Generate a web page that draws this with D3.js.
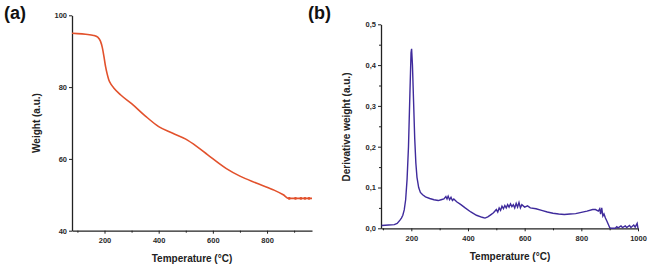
<!DOCTYPE html>
<html>
<head>
<meta charset="utf-8">
<script src="https://cdn.jsdelivr.net/npm/d3@7"></script>
<style>
  body { margin: 0; background: #fff; }
  svg { display: block; font-family: "Liberation Sans", Arial, sans-serif; }
  .tick text { font-size: 7.5px; font-weight: bold; fill: #2a2a2a; }
  .domain, .tick line { stroke: #222; }
</style>
</head>
<body>
<svg id="chart" width="652" height="265"></svg>
<script>
// TGA curve, panel (a)
var tgaTemp = [80, 100, 130, 160, 175, 185, 192, 198, 204, 210, 216, 225, 235, 260, 300, 350, 400, 450, 500, 540, 580, 650, 700, 760, 820, 860, 880, 900, 930, 966]
var tgaWeight = [95.0, 94.9, 94.7, 94.4, 93.9, 92.8, 91.0, 88.5, 85.7, 83.6, 82.0, 80.7, 79.7, 77.8, 75.4, 72.0, 69.0, 67.2, 65.5, 63.5, 61.2, 57.3, 55.2, 53.3, 51.5, 50.0, 49.0, 49.0, 49.0, 49.0]
var tgaMarkTemp = [882, 905, 925, 940, 955]

// DTG curve, panel (b)
var dtgTemp = [95, 120, 140, 150, 160, 165, 170, 175, 180, 185, 190, 195, 199, 201, 204, 208, 212, 216, 220, 226, 232, 240, 250, 265, 280, 295, 305, 315, 322, 326, 330, 335, 340, 345, 350, 360, 375, 390, 410, 430, 450, 460, 470, 480, 490, 500, 505, 510, 515, 520, 525, 530, 535, 540, 545, 550, 555, 560, 565, 570, 575, 580, 585, 590, 600, 610, 620, 640, 660, 680, 700, 720, 740, 760, 780, 800, 820, 840, 850, 860, 865, 868, 872, 876, 880, 885, 890, 895, 900, 905, 920, 925, 930, 940, 945, 955, 960, 970, 975, 985, 990, 997, 1000]
var dtgValue = [0.007, 0.008, 0.009, 0.012, 0.02, 0.025, 0.032, 0.045, 0.07, 0.12, 0.2, 0.33, 0.43, 0.44, 0.40, 0.31, 0.22, 0.16, 0.125, 0.10, 0.088, 0.082, 0.077, 0.073, 0.07, 0.068, 0.07, 0.072, 0.078, 0.072, 0.079, 0.07, 0.076, 0.068, 0.072, 0.065, 0.058, 0.05, 0.04, 0.032, 0.027, 0.025, 0.028, 0.033, 0.038, 0.046, 0.04, 0.05, 0.044, 0.054, 0.048, 0.056, 0.05, 0.058, 0.052, 0.06, 0.053, 0.058, 0.05, 0.061, 0.052, 0.063, 0.05, 0.058, 0.052, 0.055, 0.05, 0.048, 0.044, 0.04, 0.037, 0.035, 0.034, 0.035, 0.036, 0.039, 0.042, 0.046, 0.046, 0.042, 0.048, 0.035, 0.05, 0.03, 0.035, 0.025, 0.018, 0.01, 0.002, 0.0, 0.0, 0.004, 0.001, 0.006, 0.002, 0.006, 0.002, 0.007, 0.002, 0.008, 0.003, 0.012, 0.0]

var aXTicks = [200, 400, 600, 800]
var aXMinor = [100, 300, 500, 700, 900]
var aYTicks = [40, 60, 80, 100]
var bXTicks = [200, 400, 600, 800, 1000]
var bXMinor = [100, 300, 500, 700, 900]
var bYTicks = [0, 0.1, 0.2, 0.3, 0.4, 0.5]
var bYMinor = [0.05, 0.15, 0.25, 0.35, 0.45]

var svg = d3.select("#chart")

// panel (a) scales
var xa = d3.scaleLinear().domain([80, 966]).range([72, 312])
var ya = d3.scaleLinear().domain([40, 100]).range([230.7, 15.3])

// panel (b) scales
var xb = d3.scaleLinear().domain([93, 1000]).range([381, 638])
var yb = d3.scaleLinear().domain([0, 0.5]).range([228.3, 24.3])

function drawAxes(x, y, xTicks, xMinor, yTicks, yMinor, yFmt) {
  var g = svg.append("g")
  var bottom = y.range()[0]
  var left = x.range()[0]

  g.append("g")
    .attr("transform", "translate(0," + bottom + ")")
    .call(d3.axisBottom(x).tickValues(xTicks).tickSize(3).tickSizeOuter(0).tickPadding(4).tickFormat(d3.format("d")))
  g.append("g")
    .attr("transform", "translate(0," + bottom + ")")
    .call(d3.axisBottom(x).tickValues(xMinor).tickSize(2).tickFormat("").tickSizeOuter(0))
    .select(".domain").remove()

  g.append("g")
    .attr("transform", "translate(" + left + ",0)")
    .call(d3.axisLeft(y).tickValues(yTicks).tickSize(3).tickSizeOuter(0).tickPadding(2).tickFormat(yFmt))
  if (yMinor.length) {
    g.append("g")
      .attr("transform", "translate(" + left + ",0)")
      .call(d3.axisLeft(y).tickValues(yMinor).tickSize(2).tickFormat("").tickSizeOuter(0))
      .select(".domain").remove()
  }
  g.selectAll(".domain").attr("stroke-width", 1.3)
  g.selectAll(".tick line").attr("stroke-width", 1)
}

drawAxes(xa, ya, aXTicks, aXMinor, aYTicks, [], d3.format("d"))
drawAxes(xb, yb, bXTicks, bXMinor, bYTicks, bYMinor, function(d) { return d3.format(".1f")(d).replace(".", ",") })

// TGA line
var tgaData = tgaTemp.map(function(t, i) { return [t, tgaWeight[i]] })
svg.append("path")
  .datum(tgaData)
  .attr("fill", "none")
  .attr("stroke", "#e2512c")
  .attr("stroke-width", 1.6)
  .attr("d", d3.line().x(function(d) { return xa(d[0]) }).y(function(d) { return ya(d[1]) }).curve(d3.curveMonotoneX))

svg.selectAll(".mark")
  .data(tgaMarkTemp)
  .enter().append("circle")
  .attr("cx", function(d) { return xa(d) })
  .attr("cy", ya(49))
  .attr("r", 1.4)
  .attr("fill", "#e2512c")

// DTG line
var dtgData = dtgTemp.map(function(t, i) { return [t, dtgValue[i]] })
svg.append("path")
  .datum(dtgData)
  .attr("fill", "none")
  .attr("stroke", "#3f2b9c")
  .attr("stroke-width", 1.4)
  .attr("d", d3.line().x(function(d) { return xb(d[0]) }).y(function(d) { return yb(d[1]) }))

// titles
svg.append("text").attr("x", 192).attr("y", 262).attr("text-anchor", "middle")
  .attr("font-size", 10).attr("font-weight", "bold").attr("fill", "#222").text("Temperature (°C)")
svg.append("text").attr("x", 510).attr("y", 260).attr("text-anchor", "middle")
  .attr("font-size", 10).attr("font-weight", "bold").attr("fill", "#222").text("Temperature (°C)")
svg.append("text").attr("transform", "translate(40,123) rotate(-90)").attr("text-anchor", "middle")
  .attr("font-size", 10).attr("font-weight", "bold").attr("fill", "#222").text("Weight (a.u.)")
svg.append("text").attr("transform", "translate(350,127) rotate(-90)").attr("text-anchor", "middle")
  .attr("font-size", 10).attr("font-weight", "bold").attr("fill", "#222").text("Derivative weight (a.u.)")

// panel letters
svg.append("text").attr("x", 4).attr("y", 19).attr("font-size", 18).attr("font-weight", "bold").attr("fill", "#111").text("(a)")
svg.append("text").attr("x", 308).attr("y", 19).attr("font-size", 18).attr("font-weight", "bold").attr("fill", "#111").text("(b)")
</script>
</body>
</html>
